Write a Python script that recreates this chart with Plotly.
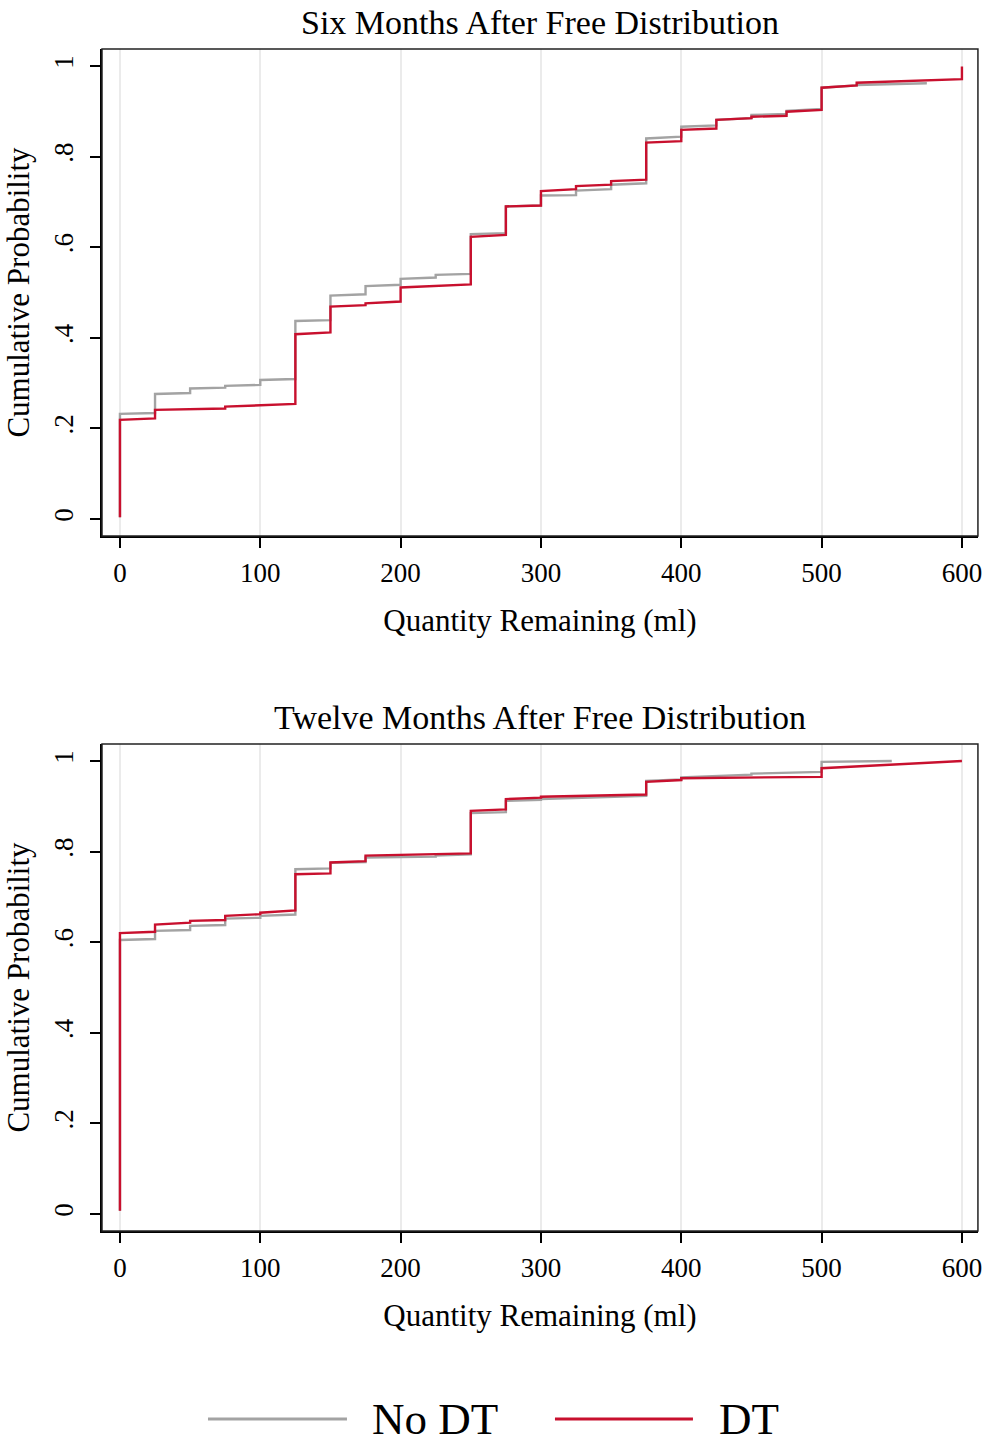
import plotly.graph_objects as go

# ---- data: distinct quantities and cumulative probability at the first/last obs at that quantity
six_nodt_x  = [0, 25, 50, 75, 100, 125, 150, 175, 200, 225, 250, 275, 300, 325, 350, 375, 400, 425, 450, 475, 500, 525, 575]
six_nodt_lo = [0.004, 0.234, 0.278, 0.290, 0.296, 0.309, 0.439, 0.496, 0.517, 0.533, 0.541, 0.631, 0.692, 0.715, 0.728, 0.741, 0.844, 0.869, 0.885, 0.894, 0.905, 0.957, 0.962]
six_nodt_hi = [0.232, 0.276, 0.288, 0.294, 0.307, 0.437, 0.493, 0.514, 0.530, 0.539, 0.629, 0.690, 0.714, 0.725, 0.738, 0.840, 0.866, 0.881, 0.892, 0.901, 0.952, 0.958, 0.962]

six_dt_x  = [0, 25, 75, 125, 150, 175, 200, 250, 275, 300, 325, 350, 375, 400, 425, 450, 475, 500, 525, 600]
six_dt_lo = [0.004, 0.222, 0.244, 0.254, 0.412, 0.472, 0.480, 0.518, 0.627, 0.692, 0.728, 0.738, 0.749, 0.834, 0.862, 0.885, 0.890, 0.903, 0.957, 0.971]
six_dt_hi = [0.219, 0.241, 0.248, 0.408, 0.469, 0.476, 0.511, 0.623, 0.690, 0.724, 0.735, 0.746, 0.831, 0.859, 0.881, 0.888, 0.899, 0.952, 0.963, 0.999]

twelve_nodt_x  = [0, 25, 50, 75, 100, 125, 150, 175, 225, 250, 275, 300, 375, 400, 450, 500, 550]
twelve_nodt_lo = [0.007, 0.607, 0.627, 0.638, 0.654, 0.661, 0.763, 0.777, 0.789, 0.794, 0.887, 0.914, 0.923, 0.959, 0.970, 0.976, 1.000]
twelve_nodt_hi = [0.605, 0.625, 0.636, 0.652, 0.658, 0.761, 0.775, 0.787, 0.791, 0.885, 0.912, 0.916, 0.956, 0.964, 0.972, 0.998, 1.000]

twelve_dt_x  = [0, 25, 50, 75, 100, 125, 150, 175, 250, 275, 300, 375, 400, 500, 600]
twelve_dt_lo = [0.007, 0.623, 0.643, 0.649, 0.662, 0.670, 0.752, 0.779, 0.796, 0.893, 0.919, 0.926, 0.958, 0.965, 1.000]
twelve_dt_hi = [0.620, 0.639, 0.647, 0.658, 0.665, 0.750, 0.776, 0.791, 0.890, 0.916, 0.921, 0.954, 0.962, 0.984, 1.000]

panel_titles = ["Six Months After Free Distribution", "Twelve Months After Free Distribution"]
series_names = ["No DT", "DT"]
x_ticks = [0, 100, 200, 300, 400, 500, 600]
y_ticks = [0, 0.2, 0.4, 0.6, 0.8, 1.0]
y_ticklabels = ["0", ".2", ".4", ".6", ".8", "1"]

GRAY = "#a3a3a3"
RED = "#c8102e"
FONT = "Liberation Serif"

W = 987.0
H = 1445.0
SX = 1.004  # small horizontal correction


def px(xp):
    return xp * SX / W


def py(yp):
    return 1 - yp / H


def vertices(xs, lo, hi):
    vx, vy = [], []
    for x, a, b in zip(xs, lo, hi):
        vx += [x, x]
        vy += [a, b]
    return vx, vy


fig = go.Figure()
panels = [
    ((six_nodt_x, six_nodt_lo, six_nodt_hi), (six_dt_x, six_dt_lo, six_dt_hi)),
    ((twelve_nodt_x, twelve_nodt_lo, twelve_nodt_hi), (twelve_dt_x, twelve_dt_lo, twelve_dt_hi)),
]
for i, (nodt, dt) in enumerate(panels):
    xa = "x" if i == 0 else "x2"
    ya = "y" if i == 0 else "y2"
    for (data, color, name) in [(nodt, GRAY, series_names[0]), (dt, RED, series_names[1])]:
        vx, vy = vertices(*data)
        fig.add_trace(go.Scatter(x=vx, y=vy, mode="lines", xaxis=xa, yaxis=ya,
                                 line=dict(color=color, width=2.4), name=name,
                                 showlegend=False))

xdom = [px(102), min(px(978), 1.0)]
doms = [[py(536), py(49)], [py(1231), py(744)]]

axis_common = dict(showline=True, linecolor="black", linewidth=2, ticks="outside",
                   ticklen=10, tickwidth=1.6, tickcolor="black", zeroline=False,
                   tickfont=dict(family=FONT, size=27, color="black"))
for i in range(2):
    sx = "" if i == 0 else "2"
    fig.layout["xaxis" + sx] = dict(
        domain=xdom, anchor="y" + sx, range=[-12.8, 611.4],
        tickvals=x_ticks, showgrid=True, gridcolor="#ebebeb", gridwidth=1.6,
        ticklabelstandoff=2,
        title=dict(text="Quantity Remaining (ml)", font=dict(family=FONT, size=31, color="black"), standoff=22),
        **axis_common)
    fig.layout["yaxis" + sx] = dict(
        domain=doms[i], anchor="x" + sx, range=[-0.0375, 1.0375],
        tickvals=y_ticks, ticktext=y_ticklabels, tickangle=-90, showgrid=False,
        ticklabelstandoff=6,
        title=dict(text="Cumulative Probability", font=dict(family=FONT, size=31, color="black"), standoff=10),
        **axis_common)
    # frame (top/right)
    fig.add_shape(type="rect", xref="x" + sx + " domain", yref="y" + sx + " domain",
                  x0=0, x1=1, y0=0, y1=1, line=dict(color="#222222", width=1.5), layer="above")
    # panel title
    fig.add_annotation(text=panel_titles[i], xref="paper", yref="paper",
                       x=(xdom[0] + xdom[1]) / 2, y=doms[i][1] + 27 / H,
                       xanchor="center", yanchor="middle", showarrow=False,
                       font=dict(family=FONT, size=34, color="black"))

# legend drawn manually with long line samples
leg_y = py(1419)
for (x0, x1, tx, color, name) in [(208, 347, 370, GRAY, series_names[0]), (555, 693, 717, RED, series_names[1])]:
    fig.add_shape(type="line", xref="paper", yref="paper", x0=px(x0), x1=px(x1), y0=leg_y, y1=leg_y,
                  line=dict(color=color, width=3))
    fig.add_annotation(text=name, xref="paper", yref="paper", x=px(tx), y=leg_y,
                       xanchor="left", yanchor="middle", showarrow=False,
                       font=dict(family=FONT, size=45, color="black"))

fig.update_layout(width=int(W), height=int(H), margin=dict(l=0, r=0, t=0, b=0),
                  plot_bgcolor="white", paper_bgcolor="white", showlegend=False)

fig.write_html("out.html", config={"displayModeBar": False},
               post_script="document.body.style.margin='0';document.body.style.overflow='hidden';")
